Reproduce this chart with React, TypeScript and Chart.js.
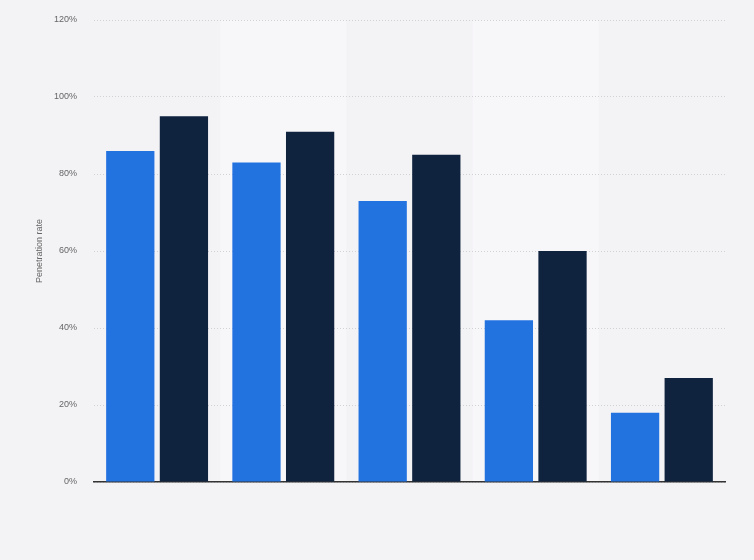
import { useEffect, useRef } from "react";
import { Chart, registerables } from "chart.js";

Chart.register(...registerables);

const CATEGORIES = ["Group 1", "Group 2", "Group 3", "Group 4", "Group 5"];
const SERIES_A = [86, 83, 73, 42, 18];
const SERIES_B = [95, 91, 85, 60, 27];
const SERIES_NAMES = ["Series A", "Series B"];
const COLORS = ["#2272e0", "#0f233f"];

const BG = "#f3f2f5";
const BAND = "#f7f6f9";
const FONT = "'Liberation Sans', Arial, sans-serif";

export default function App() {
  const canvasRef = useRef<HTMLCanvasElement>(null);
  const chartRef = useRef<Chart<"bar"> | null>(null);

  useEffect(() => {
    document.body.style.margin = "0";
    document.body.style.background = BG;
    if (!canvasRef.current) return;
    if (chartRef.current) chartRef.current.destroy();

    chartRef.current = new Chart(canvasRef.current, {
      type: "bar",
      data: {
        labels: CATEGORIES,
        datasets: [
          { label: SERIES_NAMES[0], data: SERIES_A, backgroundColor: COLORS[0], borderWidth: 0 },
          { label: SERIES_NAMES[1], data: SERIES_B, backgroundColor: COLORS[1], borderWidth: 0 },
        ],
      },
      options: {
        responsive: false,
        animation: false,
        layout: { padding: { left: 30, right: 29, top: 20, bottom: 70 } },
        datasets: { bar: { categoryPercentage: 0.85, barPercentage: 0.9 } },
        plugins: { legend: { display: false }, tooltip: { enabled: false } },
        scales: {
          x: {
            grid: { display: false },
            ticks: { display: false },
            border: { display: true, color: "#333333", width: 1.5 },
          },
          y: {
            min: 0,
            max: 120,
            afterFit(scale) {
              scale.width = 64;
              scale.paddingTop = 0;
            },
            ticks: {
              stepSize: 20,
              padding: 17,
              color: "#666666",
              font: { family: FONT, size: 9 },
              callback: (v) => `${v}%`,
            },
            grid: { color: "#d2d2d6", drawTicks: false, lineWidth: 1 },
            border: { display: false, dash: [1, 2] },
            title: {
              display: true,
              text: "Penetration rate",
              color: "#666666",
              font: { family: FONT, size: 9 },
              padding: 4,
            },
          },
        },
      },
      plugins: [
        {
          id: "bands",
          beforeDraw(chart) {
            const { ctx, chartArea } = chart;
            const x = chart.scales.x;
            ctx.save();
            ctx.fillStyle = BG;
            ctx.fillRect(0, 0, chart.width, chart.height);
            const w = (chartArea.right - chartArea.left) / CATEGORIES.length;
            ctx.fillStyle = BAND;
            CATEGORIES.forEach((_, i) => {
              if (i % 2 === 1) {
                const cx = x.getPixelForValue(i);
                ctx.fillRect(cx - w / 2, chartArea.top, w, chartArea.bottom - chartArea.top);
              }
            });
            ctx.restore();
          },
        },
      ],
    });

    return () => {
      if (chartRef.current) chartRef.current.destroy();
      chartRef.current = null;
    };
  }, []);

  return (
    <div style={{ width: 754, height: 560, background: BG }}>
      <canvas ref={canvasRef} width={754} height={560} />
    </div>
  );
}
